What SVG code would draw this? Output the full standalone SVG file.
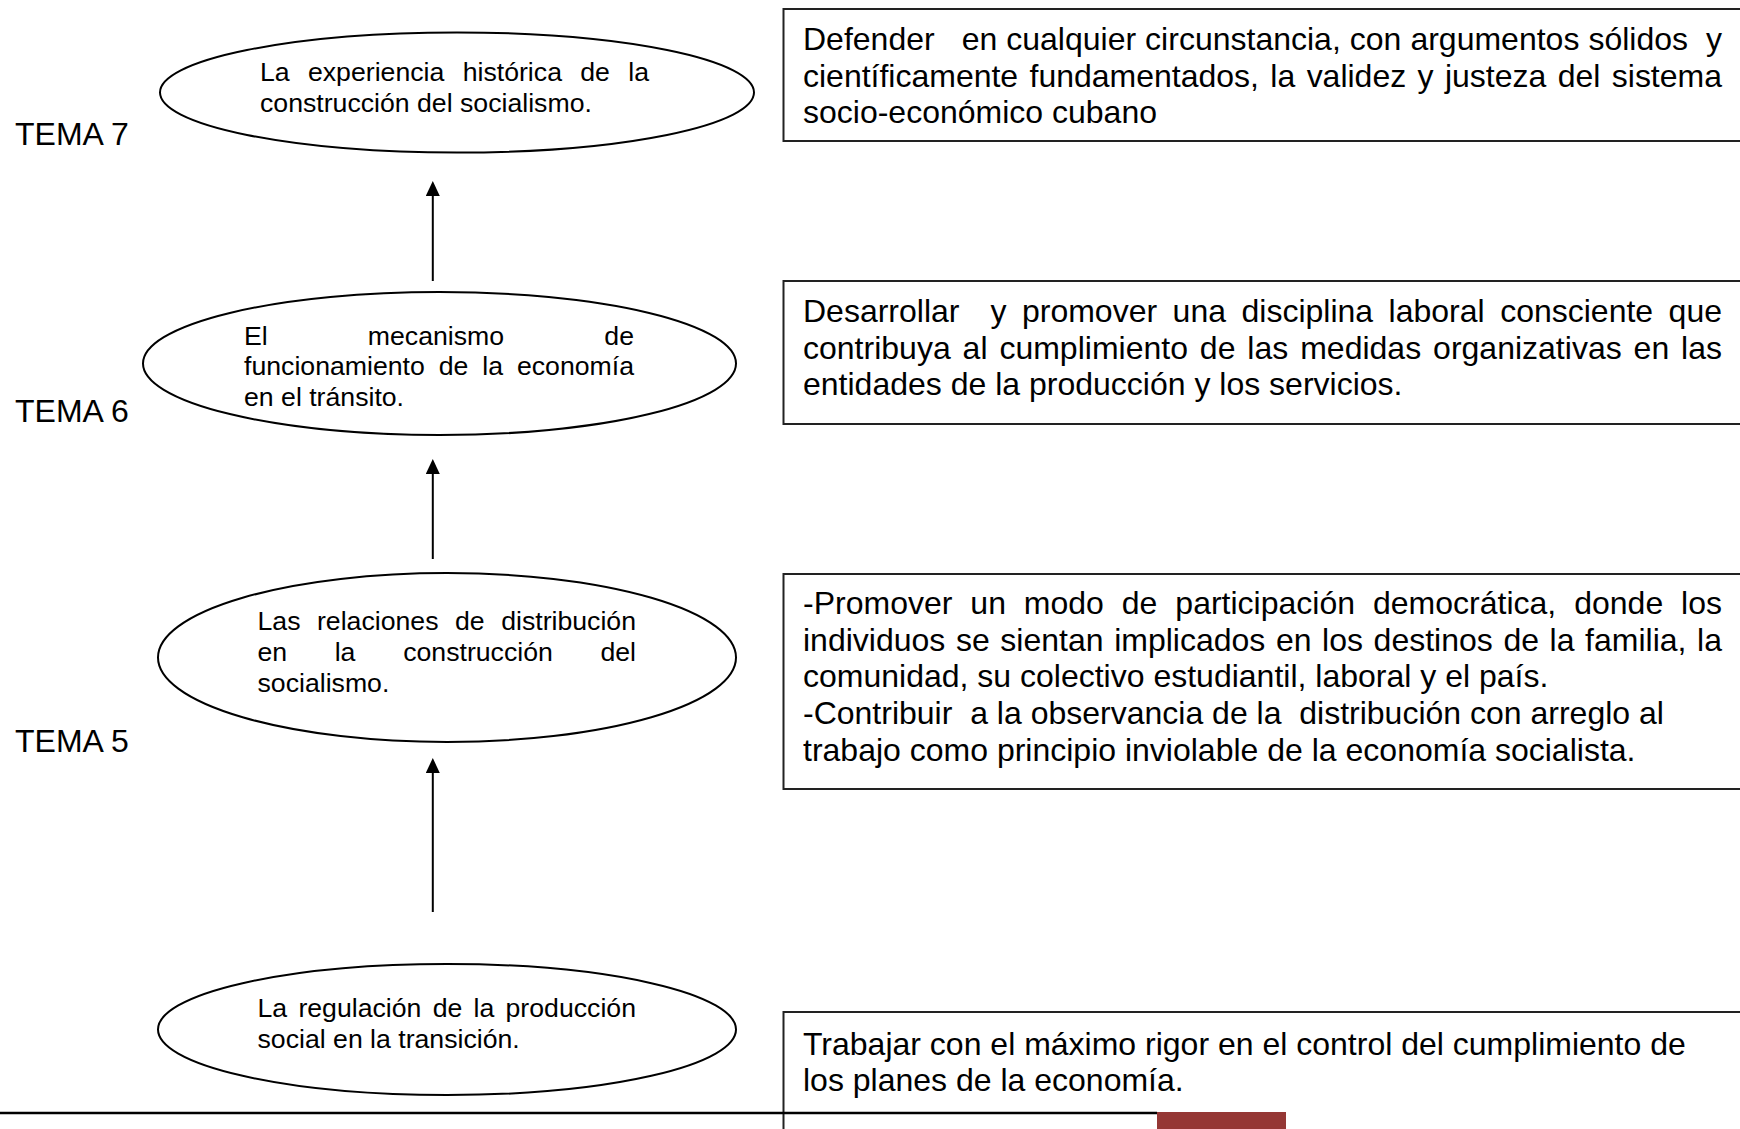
<svg xmlns="http://www.w3.org/2000/svg" width="1740" height="1129" viewBox="0 0 1740 1129">
<style>
text{font-family:"Liberation Sans",Arial,sans-serif;fill:#000;white-space:pre}
.et{font-size:26.67px}
.bt{font-size:32px}
.tema{font-size:32px}
.ell{fill:#fff;stroke:#000;stroke-width:2}
.box{fill:#fff;stroke:#222;stroke-width:2}
.conn{stroke:#000;stroke-width:2;fill:none}
</style>
<defs>
<marker id="ah" markerUnits="userSpaceOnUse" markerWidth="16" markerHeight="15" refX="5" refY="7" orient="auto">
<path d="M0,0 L15,7 L0,14 z" fill="#000"/>
</marker>
</defs>
<rect width="1740" height="1129" fill="#fff"/>

<g id="tema-labels">
<text class="tema" x="15" y="144.5">TEMA 7</text>
<text class="tema" x="15" y="422">TEMA 6</text>
<text class="tema" x="15" y="752">TEMA 5</text>
</g>

<g id="node-tema7">
<ellipse class="ell" cx="457" cy="92.5" rx="297" ry="60"/>
<text class="et" x="260" y="81" word-spacing="10.9" textLength="389" lengthAdjust="spacing">La experiencia histórica de la</text>
<text class="et" x="260" y="111.7">construcción del socialismo.</text>
</g>

<g id="node-tema6">
<ellipse class="ell" cx="439.5" cy="363.5" rx="296.5" ry="71.5"/>
<text class="et" x="244" y="344.5">El</text>
<text class="et" x="436" y="344.5" text-anchor="middle">mecanismo</text>
<text class="et" x="634" y="344.5" text-anchor="end">de</text>
<text class="et" x="244" y="375" word-spacing="6.5" textLength="390" lengthAdjust="spacing">funcionamiento de la economía</text>
<text class="et" x="244" y="405.5">en el tránsito.</text>
</g>

<g id="node-tema5">
<ellipse class="ell" cx="447" cy="657.5" rx="289" ry="84.5"/>
<text class="et" x="257.5" y="630" word-spacing="9.1" textLength="378.5" lengthAdjust="spacing">Las relaciones de distribución</text>
<text class="et" x="257.5" y="661">en</text>
<text class="et" x="345" y="661" text-anchor="middle">la</text>
<text class="et" x="478" y="661" text-anchor="middle">construcción</text>
<text class="et" x="636" y="661" text-anchor="end">del</text>
<text class="et" x="257.5" y="692">socialismo.</text>
</g>

<g id="node-tema4">
<ellipse class="ell" cx="447" cy="1029.5" rx="289" ry="65.5"/>
<text class="et" x="257.5" y="1017" word-spacing="3.8" textLength="378.5" lengthAdjust="spacing">La regulación de la producción</text>
<text class="et" x="257.5" y="1047.5">social en la transición.</text>
</g>

<g id="connectors">
<line class="conn" x1="432.8" y1="281" x2="432.8" y2="191" marker-end="url(#ah)"/>
<line class="conn" x1="432.8" y1="559" x2="432.8" y2="469" marker-end="url(#ah)"/>
<line class="conn" x1="432.8" y1="912" x2="432.8" y2="768" marker-end="url(#ah)"/>
</g>

<g id="box-tema7">
<rect class="box" x="783.5" y="9" width="1000" height="132"/>
<text class="bt" x="803" y="50" word-spacing="0.1" textLength="919" lengthAdjust="spacing">Defender   en cualquier circunstancia, con argumentos sólidos  y</text>
<text class="bt" x="803" y="86.7" word-spacing="2.5" textLength="919" lengthAdjust="spacing">científicamente fundamentados, la validez y justeza del sistema</text>
<text class="bt" x="803" y="123.4">socio-económico cubano</text>
</g>

<g id="box-tema6">
<rect class="box" x="783.5" y="281" width="1000" height="143"/>
<text class="bt" x="803" y="322" word-spacing="6.6" textLength="919" lengthAdjust="spacing">Desarrollar  y promover una disciplina laboral consciente que</text>
<text class="bt" x="803" y="358.7" word-spacing="3" textLength="919" lengthAdjust="spacing">contribuya al cumplimiento de las medidas organizativas en las</text>
<text class="bt" x="803" y="395.4">entidades de la producción y los servicios.</text>
</g>

<g id="box-tema5">
<rect class="box" x="783.5" y="574" width="1000" height="215"/>
<text class="bt" x="803" y="614" word-spacing="9" textLength="919" lengthAdjust="spacing">-Promover un modo de participación democrática, donde los</text>
<text class="bt" x="803" y="650.7" word-spacing="1.7" textLength="919" lengthAdjust="spacing">individuos se sientan implicados en los destinos de la familia, la</text>
<text class="bt" x="803" y="687.4">comunidad, su colectivo estudiantil, laboral y el país.</text>
<text class="bt" x="803" y="724.1">-Contribuir  a la observancia de la  distribución con arreglo al</text>
<text class="bt" x="803" y="760.8">trabajo como principio inviolable de la economía socialista.</text>
</g>

<g id="box-tema4">
<rect class="box" x="783.5" y="1012" width="1000" height="200"/>
<text class="bt" x="803" y="1054.6">Trabajar con el máximo rigor en el control del cumplimiento de</text>
<text class="bt" x="803" y="1091.3">los planes de la economía.</text>
</g>

<g id="footer">
<line x1="0" y1="1113" x2="1157" y2="1113" stroke="#000" stroke-width="2.5"/>
<rect x="1157" y="1112" width="129" height="17" fill="#953735"/>
</g>
</svg>
